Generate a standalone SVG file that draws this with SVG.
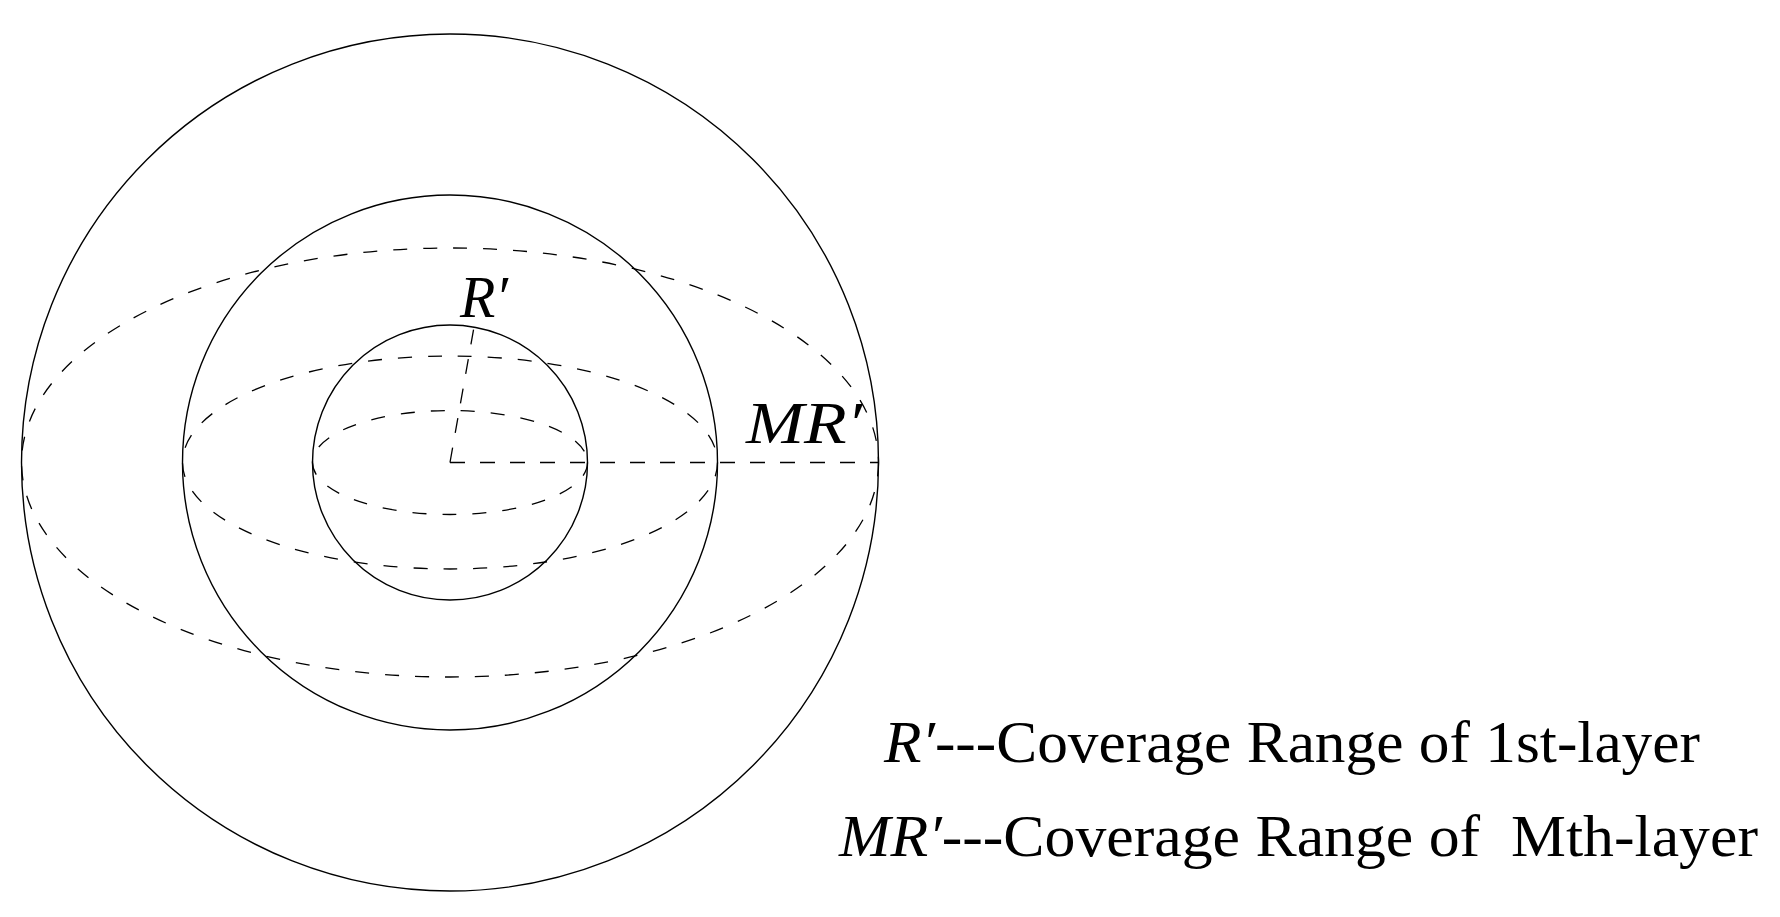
<svg xmlns="http://www.w3.org/2000/svg" width="1780" height="917" viewBox="0 0 1780 917">
<style>
.solid{fill:none;stroke:#000;stroke-width:1.4}
.dash{fill:none;stroke:#000;stroke-width:1.3;stroke-dasharray:14 16}
.t{font-family:"Liberation Serif","Times New Roman",serif;font-size:59px;fill:#000}
.i{font-style:italic}
</style>
<rect width="1780" height="917" fill="#fff"/>
<g id="outer-circle"><circle class="solid" cx="450" cy="462.5" r="428.5"/></g>
<g id="middle-circle"><circle class="solid" cx="450" cy="462.5" r="267.5"/></g>
<g id="inner-circle"><circle class="solid" cx="450" cy="462.5" r="137.5"/></g>
<g id="outer-ellipse"><ellipse class="dash" cx="450" cy="462.5" rx="428.5" ry="214.5"/></g>
<g id="middle-ellipse"><ellipse class="dash" cx="450" cy="462.5" rx="267.5" ry="106.5"/></g>
<g id="inner-ellipse"><ellipse class="dash" cx="450" cy="462.5" rx="137.5" ry="52"/></g>
<g id="connectors">
<line class="dash" x1="450" y1="462.5" x2="474" y2="327" style="stroke-dasharray:15 15"/>
<line class="dash" x1="450" y1="462.5" x2="878.5" y2="462.5" style="stroke-dasharray:15 15"/>
</g>
<g id="label-r"><text class="t i" x="460" y="317" textLength="48" lengthAdjust="spacingAndGlyphs">R′</text></g>
<g id="label-mr"><text class="t i" x="746" y="443" textLength="116" lengthAdjust="spacingAndGlyphs">MR′</text></g>
<g id="legend">
<text class="t" x="884" y="762" xml:space="preserve" textLength="816" lengthAdjust="spacingAndGlyphs"><tspan class="i">R′</tspan>---Coverage Range of 1st-layer</text>
<text class="t" x="839" y="856" xml:space="preserve" textLength="919" lengthAdjust="spacingAndGlyphs"><tspan class="i">MR′</tspan>---Coverage Range of  Mth-layer</text>
</g>
</svg>
